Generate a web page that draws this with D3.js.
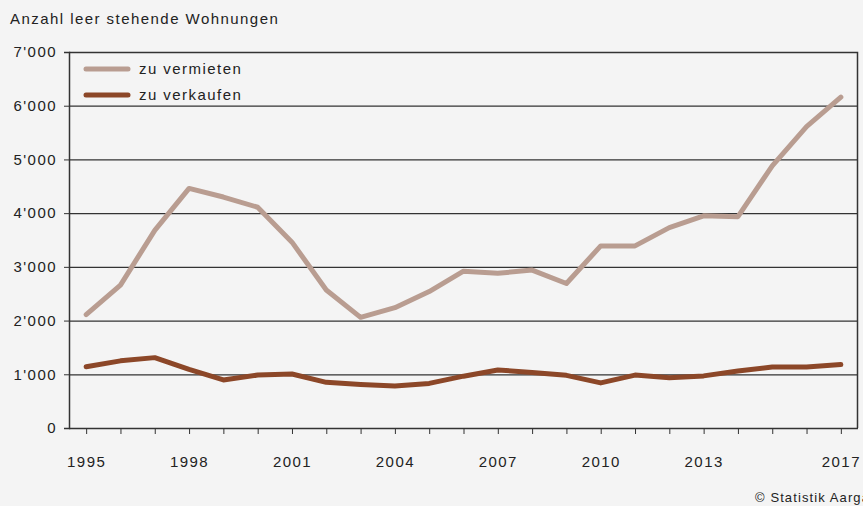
<!DOCTYPE html>
<html>
<head>
<meta charset="utf-8">
<script src="https://cdn.jsdelivr.net/npm/d3@7"></script>
<style>
  body { margin: 0; background: #f4f4f4; }
  svg { display: block; font-family: "Liberation Sans", Arial, sans-serif; }
</style>
</head>
<body>
<svg id="chart" width="863" height="506"></svg>
<script>
const years = d3.range(1995, 2018);
const zuVermieten = [2110, 2660, 3680, 4460, 4300, 4110, 3460, 2570, 2060, 2240, 2540,
  2920, 2880, 2940, 2690, 3390, 3390, 3730, 3950, 3935, 4880, 5610, 6160];
const zuVerkaufen = [1140, 1250, 1310, 1090, 895, 985, 1005, 850, 810, 780, 830,
  965, 1080, 1035, 980, 840, 985, 935, 970, 1060, 1135, 1135, 1180];
const yTicks = [0, 1000, 2000, 3000, 4000, 5000, 6000, 7000];
const xLabels = [1995, 1998, 2001, 2004, 2007, 2010, 2013, 2017];

const series = [
  { name: "zu vermieten", values: zuVermieten, color: "#b99d91" },
  { name: "zu verkaufen", values: zuVerkaufen, color: "#8c4728" }
];

const svg = d3.select("#chart");
const margin = { top: 52, right: 5, bottom: 78, left: 69 };
const width = 863, height = 506;
const innerWidth = width - margin.left - margin.right;
const innerHeight = height - margin.top - margin.bottom;
const LS = "1.45px";

const g = svg.append("g").attr("transform", `translate(${margin.left},${margin.top})`);

const x = d3.scaleLinear().domain([1994.5, 2017.5]).range([0, innerWidth]);
const y = d3.scaleLinear().domain([0, 7000]).range([innerHeight, 0]);
const fmt = d => d === 0 ? "0" : d3.format(",")(d).replace(",", "'");

// gridlines
g.append("g")
  .selectAll("line")
  .data(yTicks.filter(d => d > 0 && d < 7000))
  .join("line")
  .attr("x1", 0).attr("x2", innerWidth)
  .attr("y1", d => y(d) + 0.5).attr("y2", d => y(d) + 0.5)
  .attr("stroke", "#333").attr("stroke-width", 1.2);

// frame (top + right)
g.append("path")
  .attr("d", `M0,0.5H${innerWidth - 0.5}V${innerHeight}`)
  .attr("fill", "none").attr("stroke", "#333").attr("stroke-width", 1.5);

// y axis
const yAxis = g.append("g")
  .call(d3.axisLeft(y).tickValues(yTicks).tickFormat(fmt).tickSize(5).tickPadding(7));
yAxis.select(".domain").attr("stroke", "#333").attr("stroke-width", 1.5);
yAxis.selectAll(".tick line").attr("stroke", "#333");
yAxis.selectAll("text").attr("fill", "#222").style("font-size", "15px")
  .style("letter-spacing", LS);

// x axis
const xAxis = g.append("g")
  .attr("transform", `translate(0,${innerHeight})`)
  .call(d3.axisBottom(x).tickValues(years).tickSize(6).tickPadding(22)
    .tickFormat(d => xLabels.includes(d) ? d : ""));
xAxis.select(".domain").attr("d", `M0,0.5H${innerWidth}`).attr("stroke", "#333").attr("stroke-width", 1.5);
xAxis.selectAll(".tick line").attr("stroke", "#333");
xAxis.selectAll("text").attr("fill", "#222").style("font-size", "15px")
  .style("letter-spacing", LS);

// lines
const line = d3.line().x((d, i) => x(years[i])).y(d => y(d));
g.append("g")
  .selectAll("path")
  .data(series)
  .join("path")
  .attr("d", d => line(d.values))
  .attr("fill", "none")
  .attr("stroke", d => d.color)
  .attr("stroke-width", 5)
  .attr("stroke-linejoin", "round")
  .attr("stroke-linecap", "round");

// legend
const legend = g.append("g").attr("transform", "translate(17,17)");
const item = legend.selectAll("g").data(series).join("g")
  .attr("transform", (d, i) => `translate(0,${i * 26})`);
item.append("line")
  .attr("x1", 0).attr("x2", 42)
  .attr("stroke", d => d.color).attr("stroke-width", 5).attr("stroke-linecap", "round");
item.append("text")
  .attr("x", 53).attr("dy", "0.35em")
  .attr("fill", "#222").style("font-size", "15px").style("letter-spacing", LS)
  .text(d => d.name);

// title and source
svg.append("text")
  .attr("x", 10).attr("y", 24)
  .attr("fill", "#222").style("font-size", "15px").style("letter-spacing", LS)
  .text("Anzahl leer stehende Wohnungen");
svg.append("text")
  .attr("x", 755).attr("y", 502)
  .attr("fill", "#222").style("font-size", "13px").style("letter-spacing", "1.1px")
  .text("© Statistik Aargau");
</script>
</body>
</html>
